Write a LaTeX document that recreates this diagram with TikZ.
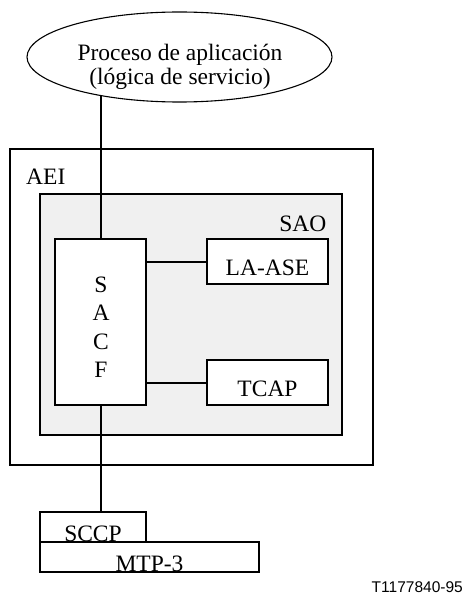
\documentclass[tikz,border=0pt]{standalone}
\usepackage{fontspec}
\setmainfont{Liberation Serif}
\newfontfamily\labelsans{Liberation Sans}
\usetikzlibrary{shapes.geometric}
\definecolor{saogray}{HTML}{F0F0F0}
\newcommand\dgfont{\fontsize{23.5bp}{28.5bp}\selectfont}
\begin{document}
\begin{tikzpicture}[x=1bp,y=-1bp,
  frame/.style={draw, line width=1.1bp, inner sep=0pt, outer sep=0pt},
  unitbox/.style={frame, fill=white, font=\dgfont, text height=28bp, text depth=0pt},
  conn/.style={line width=2bp},
  txt/.style={font=\dgfont, inner sep=0pt}]
\useasboundingbox (0,0) rectangle (464,594);
% frames
\node[frame, minimum width=363bp, minimum height=316bp] (aei) at (191.5,307) {};
\node[frame, fill=saogray, minimum width=302bp, minimum height=241bp] (sao) at (191,314.5) {};
\node[txt, anchor=base west] (aeilbl) at (26,184.5) {AEI};
\node[txt, anchor=base east] (saolbl) at (326.5,231) {SAO};
% SACF
\node[frame, fill=white, minimum width=91bp, minimum height=166bp] (sacf) at (100.5,322) {};
\node[txt, align=center] (sacftxt) at (101,327.3) {S\\A\\C\\F};
% units
\node[unitbox, minimum width=121bp, minimum height=45bp] (lease) at (267.5,261.5) {LA-ASE};
\node[unitbox, minimum width=121bp, minimum height=45bp] (tcap) at (267.5,382.5) {TCAP};
\node[unitbox, minimum width=106bp, minimum height=30bp] (sccp) at (93,527) {SCCP};
\node[unitbox, minimum width=219bp, minimum height=30bp] (mtp) at (149.5,557) {MTP-3};
% application process
\node[ellipse, draw, line width=1.1bp, fill=white, inner sep=0pt, outer sep=0pt,
      minimum width=305bp, minimum height=90bp] (proc) at (179.5,57) {};
\node[inner sep=0pt, align=center, font=\fontsize{23.5bp}{23.5bp}\selectfont] (proctxt) at (180,67)
  {Proceso de aplicación\\(lógica de servicio)};
% connectors
\draw[conn] (sacf.north) -- (sacf.north |- proc.206);
\draw[conn] (sacf.east |- lease.west) -- (lease.west);
\draw[conn] (sacf.east |- tcap.west) -- (tcap.west);
\draw[conn] (sacf.south) -- (sacf.south |- sccp.north);
% figure id
\node[font=\labelsans\fontsize{15.5bp}{18bp}\selectfont, inner sep=0pt, anchor=base east] (figid)
  at (463,592) {T1177840-95};
\end{tikzpicture}
\end{document}
